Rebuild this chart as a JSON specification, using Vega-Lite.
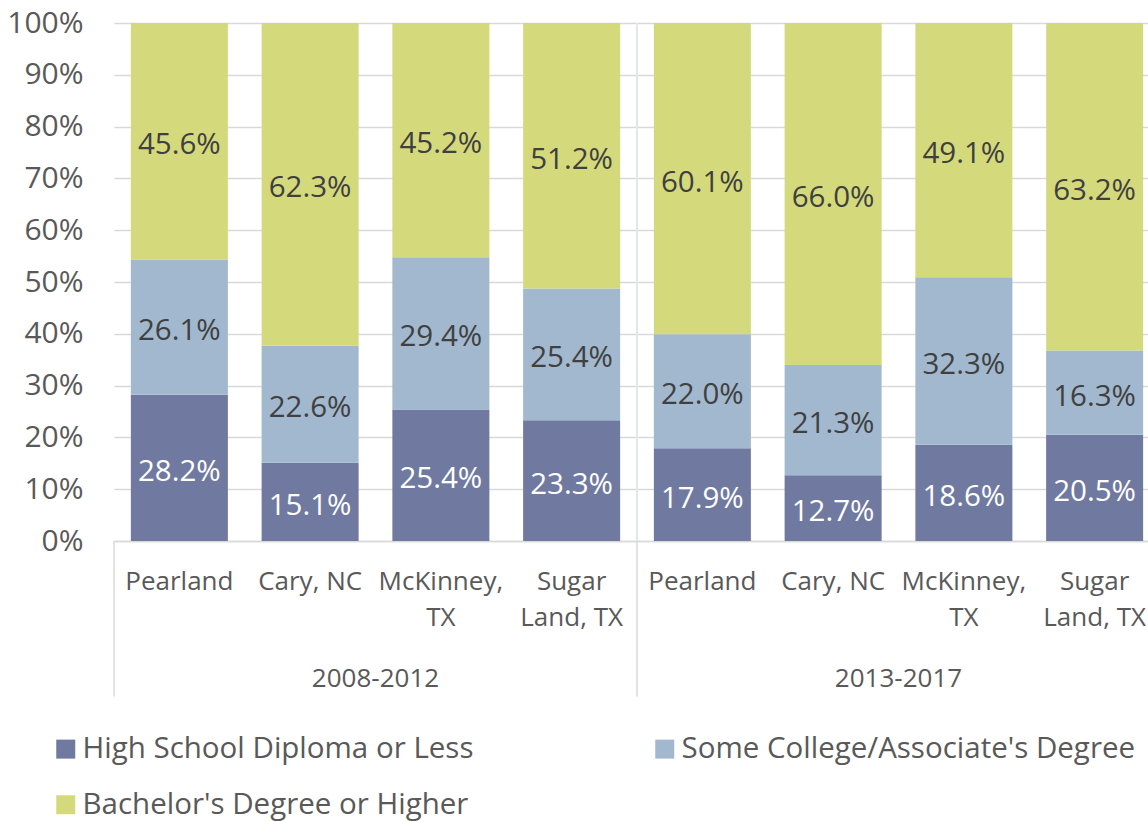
{
  "$schema": "https://vega.github.io/schema/vega-lite/v6.json",
  "autosize": {"type": "none"},
  "padding": {"left": 114, "top": 23, "right": 0, "bottom": 280},
  "width": 1034,
  "height": 518,
  "background": "white",
  "config": {
    "font": "Open Sans",
    "view": {"stroke": null},
    "axis": {"labelFont": "Open Sans", "labelColor": "#595959"}
  },
  "data": {
    "values": [
      {"period": "2008-2012", "key": "2008-2012|Pearland", "level": "High School Diploma or Less", "rank": 1, "value": 0.282},
      {"period": "2008-2012", "key": "2008-2012|Pearland", "level": "Some College/Associate's Degree", "rank": 2, "value": 0.261},
      {"period": "2008-2012", "key": "2008-2012|Pearland", "level": "Bachelor's Degree or Higher", "rank": 3, "value": 0.456},
      {"period": "2008-2012", "key": "2008-2012|Cary, NC", "level": "High School Diploma or Less", "rank": 1, "value": 0.151},
      {"period": "2008-2012", "key": "2008-2012|Cary, NC", "level": "Some College/Associate's Degree", "rank": 2, "value": 0.226},
      {"period": "2008-2012", "key": "2008-2012|Cary, NC", "level": "Bachelor's Degree or Higher", "rank": 3, "value": 0.623},
      {"period": "2008-2012", "key": "2008-2012|McKinney,|TX", "level": "High School Diploma or Less", "rank": 1, "value": 0.254},
      {"period": "2008-2012", "key": "2008-2012|McKinney,|TX", "level": "Some College/Associate's Degree", "rank": 2, "value": 0.294},
      {"period": "2008-2012", "key": "2008-2012|McKinney,|TX", "level": "Bachelor's Degree or Higher", "rank": 3, "value": 0.452},
      {"period": "2008-2012", "key": "2008-2012|Sugar|Land, TX", "level": "High School Diploma or Less", "rank": 1, "value": 0.233},
      {"period": "2008-2012", "key": "2008-2012|Sugar|Land, TX", "level": "Some College/Associate's Degree", "rank": 2, "value": 0.254},
      {"period": "2008-2012", "key": "2008-2012|Sugar|Land, TX", "level": "Bachelor's Degree or Higher", "rank": 3, "value": 0.512},
      {"period": "2013-2017", "key": "2013-2017|Pearland", "level": "High School Diploma or Less", "rank": 1, "value": 0.179},
      {"period": "2013-2017", "key": "2013-2017|Pearland", "level": "Some College/Associate's Degree", "rank": 2, "value": 0.220},
      {"period": "2013-2017", "key": "2013-2017|Pearland", "level": "Bachelor's Degree or Higher", "rank": 3, "value": 0.601},
      {"period": "2013-2017", "key": "2013-2017|Cary, NC", "level": "High School Diploma or Less", "rank": 1, "value": 0.127},
      {"period": "2013-2017", "key": "2013-2017|Cary, NC", "level": "Some College/Associate's Degree", "rank": 2, "value": 0.213},
      {"period": "2013-2017", "key": "2013-2017|Cary, NC", "level": "Bachelor's Degree or Higher", "rank": 3, "value": 0.660},
      {"period": "2013-2017", "key": "2013-2017|McKinney,|TX", "level": "High School Diploma or Less", "rank": 1, "value": 0.186},
      {"period": "2013-2017", "key": "2013-2017|McKinney,|TX", "level": "Some College/Associate's Degree", "rank": 2, "value": 0.323},
      {"period": "2013-2017", "key": "2013-2017|McKinney,|TX", "level": "Bachelor's Degree or Higher", "rank": 3, "value": 0.491},
      {"period": "2013-2017", "key": "2013-2017|Sugar|Land, TX", "level": "High School Diploma or Less", "rank": 1, "value": 0.205},
      {"period": "2013-2017", "key": "2013-2017|Sugar|Land, TX", "level": "Some College/Associate's Degree", "rank": 2, "value": 0.163},
      {"period": "2013-2017", "key": "2013-2017|Sugar|Land, TX", "level": "Bachelor's Degree or Higher", "rank": 3, "value": 0.632}
    ]
  },
  "encoding": {
    "x": {
      "field": "key",
      "type": "nominal",
      "scale": {
        "domain": ["2008-2012|Pearland", "2008-2012|Cary, NC", "2008-2012|McKinney,|TX", "2008-2012|Sugar|Land, TX", "2013-2017|Pearland", "2013-2017|Cary, NC", "2013-2017|McKinney,|TX", "2013-2017|Sugar|Land, TX"],
        "range": [0, 1046],
        "paddingInner": 0.258,
        "paddingOuter": 0.129
      },
      "axis": {
        "title": null,
        "ticks": false,
        "domainColor": "#d9d9d9",
        "domainWidth": 1.5,
        "labelAngle": 0,
        "labelFontSize": 26,
        "labelLineHeight": 36,
        "labelPadding": 27,
        "labelOverlap": false,
        "labelBound": false,
        "labelLimit": 0,
        "labelExpr": "slice(split(datum.label, '|'), 1)"
      }
    }
  },
  "layer": [
    {
      "mark": {"type": "bar"},
      "encoding": {
        "y": {
          "field": "value",
          "type": "quantitative",
          "stack": "normalize",
          "scale": {"domain": [0, 1]},
          "axis": {
            "title": null,
            "format": ".0%",
            "values": [0, 0.1, 0.2, 0.3, 0.4, 0.5, 0.6, 0.7, 0.8, 0.9, 1],
            "domain": false,
            "ticks": false,
            "gridColor": "#d9d9d9",
            "gridWidth": 1.5,
            "labelFontSize": 30,
            "labelPadding": 31,
            "zindex": 0
          }
        },
        "color": {
          "field": "level",
          "type": "nominal",
          "scale": {
            "domain": ["High School Diploma or Less", "Some College/Associate's Degree", "Bachelor's Degree or Higher"],
            "range": ["#707aa0", "#a2b8ce", "#d4da7c"]
          },
          "legend": {
            "title": null,
            "orient": "none",
            "legendX": -63,
            "legendY": 711,
            "direction": "horizontal",
            "columns": 2,
            "columnPadding": 176,
            "rowPadding": 25,
            "symbolType": "square",
            "symbolSize": 361,
            "symbolStrokeWidth": 0,
            "labelFontSize": 29.5,
            "labelColor": "#595959",
            "labelOffset": 2,
            "labelLimit": 0
          }
        },
        "order": {"field": "rank", "type": "quantitative"}
      }
    },
    {
      "mark": {"type": "text", "fontSize": 29.5, "baseline": "middle", "dy": 4},
      "encoding": {
        "y": {"field": "value", "type": "quantitative", "stack": "normalize", "bandPosition": 0.5},
        "order": {"field": "rank", "type": "quantitative"},
        "text": {"field": "value", "type": "quantitative", "format": ".1%"},
        "color": {
          "condition": {"test": "datum.rank == 1", "value": "white"},
          "value": "#404040"
        }
      }
    },
    {
      "transform": [{"filter": "datum.rank == 1 && indexof(datum.key, 'Pearland') >= 0"}],
      "mark": {"type": "rule", "color": "#d9d9d9", "strokeWidth": 1.5},
      "encoding": {
        "x": {"field": "key", "type": "nominal", "bandPosition": -0.1739},
        "y": {"datum": 0},
        "y2": {"datum": -0.3}
      }
    },
    {
      "transform": [{"filter": "datum.rank == 1 && datum.key == '2013-2017|Pearland'"}],
      "mark": {"type": "rule", "color": "#dde9ee", "strokeWidth": 2},
      "encoding": {
        "x": {"field": "key", "type": "nominal", "bandPosition": -0.1739},
        "y": {"datum": 0},
        "y2": {"datum": 1}
      }
    },
    {
      "transform": [{"filter": "datum.rank == 1 && indexof(datum.key, 'Cary') >= 0"}],
      "mark": {"type": "text", "fontSize": 26, "color": "#595959", "baseline": "middle"},
      "encoding": {
        "x": {"field": "key", "type": "nominal", "bandPosition": 1.1739},
        "y": {"datum": -0.266},
        "text": {"field": "period"}
      }
    }
  ]
}
